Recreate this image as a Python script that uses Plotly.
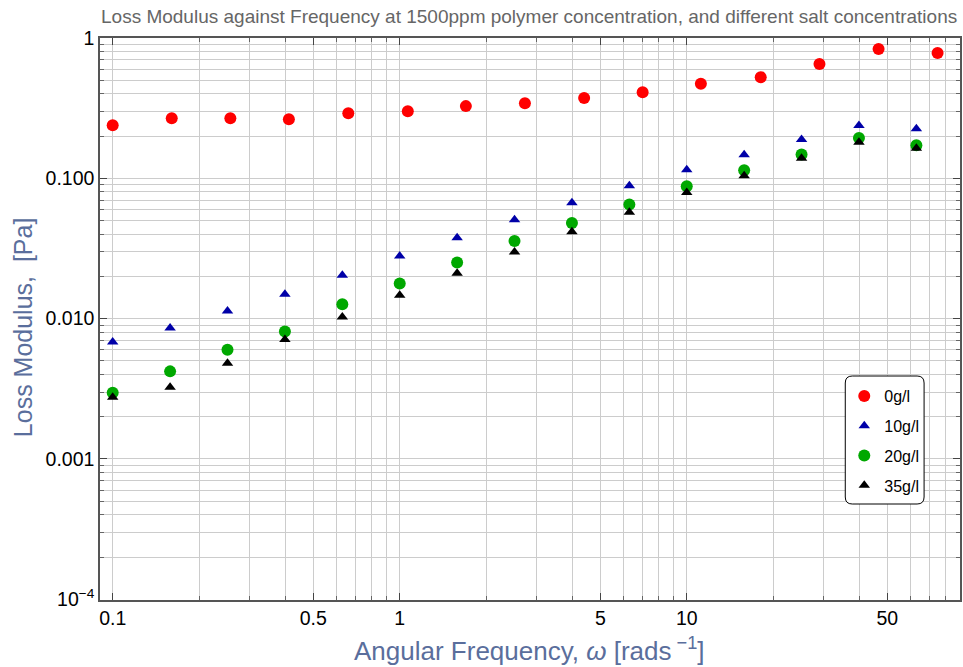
import plotly.graph_objects as go

# ---- data ----
freq_0 = [0.1, 0.1606, 0.257, 0.411, 0.662, 1.067, 1.70, 2.73, 4.39, 7.02, 11.2, 18.1, 29.0, 46.6, 74.8]
g_0 = [0.239, 0.268, 0.268, 0.264, 0.291, 0.301, 0.327, 0.343, 0.373, 0.411, 0.472, 0.526, 0.652, 0.834, 0.781]

freq_salt = [0.1, 0.1585, 0.2512, 0.3981, 0.631, 1.0, 1.585, 2.512, 3.981, 6.31, 10.0, 15.85, 25.12, 39.81, 63.1]
g_10 = [0.00681, 0.00857, 0.01133, 0.01492, 0.0204, 0.0279, 0.0377, 0.0506, 0.0670, 0.0886, 0.115, 0.147, 0.189, 0.238, 0.226]
g_20 = [0.00296, 0.00421, 0.00601, 0.00811, 0.01265, 0.01778, 0.0251, 0.0357, 0.0480, 0.0652, 0.0877, 0.114, 0.148, 0.194, 0.172]
g_35 = [0.00275, 0.00325, 0.00482, 0.00711, 0.01026, 0.01467, 0.0211, 0.0299, 0.0416, 0.0572, 0.0794, 0.1044, 0.139, 0.181, 0.164]

series_names = ["0g/l", "10g/l", "20g/l", "35g/l"]

x_tickvals = [0.1, 0.5, 1, 5, 10, 50]
x_ticktext = ["0.1", "0.5", "1", "5", "10", "50"]
y_tickvals = [1e-4, 1e-3, 1e-2, 1e-1, 1]
y_ticktext = ["10<sup>\u22124</sup>", "0.001", "0.010", "0.100", "1"]

title_text = "Loss Modulus against Frequency at 1500ppm polymer concentration, and different salt concentrations"
x_title = "Angular Frequency, <i>\u03c9</i> [rads<sup> \u22121</sup>]"
y_title = "Loss Modulus,  [Pa]"

# minor grid values
x_minor = [m * 10 ** k for k in (-1, 0, 1) for m in range(1, 10) if m * 10 ** k not in x_tickvals and m * 10 ** k < 90]
y_minor = [m * 10 ** k for k in (-4, -3, -2, -1) for m in range(2, 10)]

fig = go.Figure()
styles = [
    (freq_0, g_0, "circle", "#FF0000", 12),
    (freq_salt, g_10, "triangle-up", "#0000A8", 10),
    (freq_salt, g_20, "circle", "#00A800", 12),
    (freq_salt, g_35, "triangle-up", "#000000", 10),
]
for name, (xs, ys, sym, col, sz) in zip(series_names, styles):
    fig.add_trace(go.Scatter(
        x=xs, y=ys, mode="markers", name=name, legendgroup=name,
        marker=dict(symbol=sym, color=col, size=sz, line=dict(width=0)),
    ))

FONT = "Liberation Sans, Arial, sans-serif"
axis_font = dict(family=FONT, size=19.5, color="#000000")
grid_col = "#CCCCCC"

fig.update_xaxes(
    type="log", range=[-1.0442, 1.952],
    tickvals=x_tickvals, ticktext=x_ticktext, tickfont=axis_font,
    ticks="inside", ticklen=7, tickcolor="#444", tickwidth=1,
    showgrid=True, gridcolor=grid_col, gridwidth=1,
    showline=True, linecolor="#555", linewidth=1.5, mirror="allticks",
    minor=dict(tickvals=x_minor, ticks="inside", ticklen=4, tickcolor="#666",
               showgrid=True, gridcolor=grid_col, gridwidth=1),
    zeroline=False,
)
fig.update_yaxes(
    type="log", range=[-4.005, 0.0],
    tickvals=y_tickvals, ticktext=y_ticktext, tickfont=axis_font,
    ticks="inside", ticklen=7, tickcolor="#444", tickwidth=1,
    showgrid=True, gridcolor=grid_col, gridwidth=1,
    showline=True, linecolor="#555", linewidth=1.5, mirror="allticks",
    minor=dict(tickvals=y_minor, ticks="inside", ticklen=4, tickcolor="#666",
               showgrid=True, gridcolor=grid_col, gridwidth=1),
    zeroline=False,
)

L, R, T, B = 100, 1, 38, 67
W, H = 963, 667
pw, ph = W - L - R, H - T - B

def px_x(p):
    return (p - L) / pw

def px_y(p):
    return (H - B - p) / ph

label_col = "#5A6E9C"
fig.add_annotation(text=title_text, xref="paper", yref="paper",
                   x=px_x(961), y=px_y(16), xanchor="right", yanchor="middle",
                   showarrow=False,
                   font=dict(family=FONT, size=19, color="#666666"))
fig.add_annotation(text=x_title, xref="paper", yref="paper",
                   x=px_x(530), y=px_y(649), xanchor="center", yanchor="middle",
                   showarrow=False,
                   font=dict(family=FONT, size=26, color=label_col))
fig.add_annotation(text=y_title, xref="paper", yref="paper",
                   x=px_x(23), y=px_y(327), xanchor="center", yanchor="middle",
                   textangle=-90, showarrow=False,
                   font=dict(family=FONT, size=25, color=label_col))

# rounded legend box
x0, x1 = px_x(847), px_x(926)
y0, y1 = px_y(504), px_y(376)
rx, ry = 7 / pw, 7 / ph
path = (f"M {x0+rx},{y1} L {x1-rx},{y1} Q {x1},{y1} {x1},{y1-ry} "
        f"L {x1},{y0+ry} Q {x1},{y0} {x1-rx},{y0} L {x0+rx},{y0} "
        f"Q {x0},{y0} {x0},{y0+ry} L {x0},{y1-ry} Q {x0},{y1} {x0+rx},{y1} Z")
fig.add_shape(type="path", path=path, xref="paper", yref="paper",
              line=dict(color="#000000", width=1), fillcolor="#FFFFFF", layer="above")

fig.update_layout(
    width=W, height=H,
    margin=dict(l=L, r=R, t=T, b=B),
    paper_bgcolor="white", plot_bgcolor="white",
    showlegend=True,
    legend=dict(x=px_x(846), y=px_y(379), xanchor="left", yanchor="top",
                bgcolor="rgba(0,0,0,0)", borderwidth=0,
                font=dict(family=FONT, size=16, color="#000"),
                tracegroupgap=6, itemwidth=30),
)

fig.write_html("out.html")
